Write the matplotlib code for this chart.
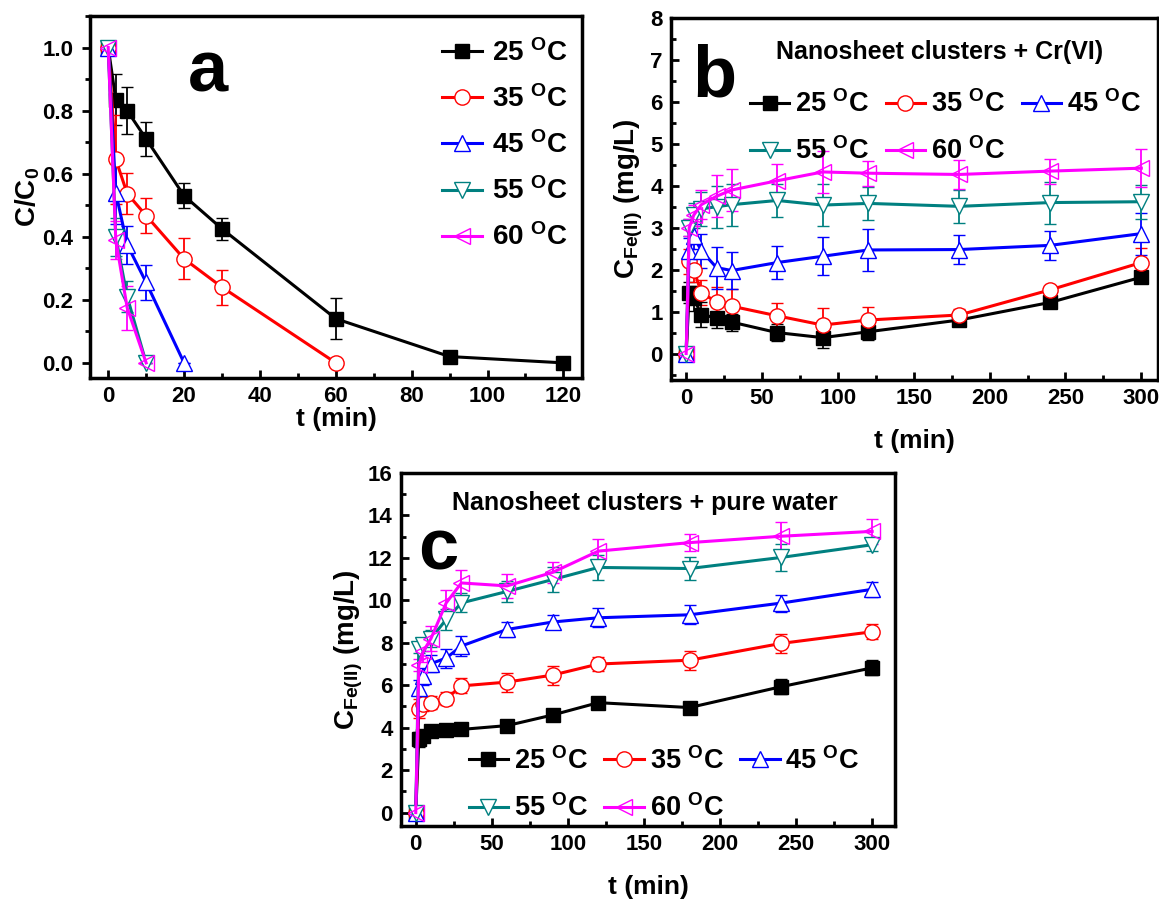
import matplotlib
matplotlib.use('Agg')
import matplotlib.pyplot as plt
from matplotlib.ticker import MultipleLocator

plt.rcParams['font.family'] = ['Liberation Sans', 'DejaVu Sans']
plt.rcParams['font.weight'] = 'bold'
plt.rcParams['mathtext.fontset'] = 'custom'
plt.rcParams['mathtext.rm'] = 'Liberation Sans:bold'
plt.rcParams['mathtext.bf'] = 'Liberation Sans:bold'
plt.rcParams['mathtext.it'] = 'Liberation Sans:bold'

# ---- data ----
labels = [r'25 $^{\mathbf{O}}$C', r'35 $^{\mathbf{O}}$C', r'45 $^{\mathbf{O}}$C',
          r'55 $^{\mathbf{O}}$C', r'60 $^{\mathbf{O}}$C']
colors = ['black', 'red', 'blue', '#008080', '#ff00ff']
markers = ['s', 'o', '^', 'v', '<']

# panel a: C/C0 vs t
t_a = [[0, 2, 5, 10, 20, 30, 60, 90, 120],
       [0, 2, 5, 10, 20, 30, 60],
       [0, 2, 5, 10, 20],
       [0, 2, 5, 10],
       [0, 2, 5, 10]]
c_a = [[1.0, 0.835, 0.80, 0.71, 0.53, 0.425, 0.14, 0.02, 0.0],
       [1.0, 0.645, 0.537, 0.467, 0.33, 0.24, 0.0],
       [1.0, 0.54, 0.375, 0.255, 0.0],
       [1.0, 0.40, 0.21, 0.0],
       [1.0, 0.39, 0.175, 0.0]]
e_a = [[0, 0.08, 0.075, 0.055, 0.04, 0.035, 0.065, 0, 0],
       [0, 0.14, 0.065, 0.055, 0.065, 0.055, 0],
       [0, 0.10, 0.06, 0.055, 0],
       [0, 0.06, 0.05, 0],
       [0, 0.06, 0.07, 0]]

# panels b and c share the sampling times
t_bc = [0, 2, 5, 10, 20, 30, 60, 90, 120, 180, 240, 300]

fe_b = [[0, 1.45, 1.32, 0.93, 0.85, 0.75, 0.50, 0.38, 0.52, 0.80, 1.22, 1.82],
        [0, 2.2, 2.0, 1.45, 1.23, 1.13, 0.90, 0.68, 0.80, 0.92, 1.52, 2.17],
        [0, 2.45, 2.8, 2.45, 2.05, 1.98, 2.17, 2.32, 2.47, 2.48, 2.58, 2.86],
        [0, 3.0, 3.3, 3.45, 3.5, 3.55, 3.65, 3.54, 3.58, 3.51, 3.6, 3.62],
        [0, 3.0, 3.3, 3.55, 3.75, 3.9, 4.12, 4.33, 4.3, 4.27, 4.35, 4.42]]
err_b = [[0, 0.25, 0.3, 0.3, 0.25, 0.2, 0.2, 0.25, 0.2, 0.1, 0.05, 0.05],
         [0, 0.3, 0.3, 0.3, 0.35, 0.4, 0.3, 0.4, 0.3, 0.15, 0.1, 0.35],
         [0, 0.3, 0.3, 0.4, 0.5, 0.45, 0.4, 0.45, 0.5, 0.35, 0.35, 0.5],
         [0, 0.2, 0.3, 0.4, 0.5, 0.5, 0.4, 0.5, 0.4, 0.4, 0.5, 0.4],
         [0, 0.2, 0.25, 0.35, 0.5, 0.5, 0.4, 0.5, 0.3, 0.35, 0.3, 0.45]]

fe_c = [[0, 3.45, 3.6, 3.85, 3.9, 3.92, 4.1, 4.6, 5.18, 4.95, 5.93, 6.82],
        [0, 4.9, 5.1, 5.18, 5.36, 5.97, 6.15, 6.48, 7.0, 7.18, 7.97, 8.52],
        [0, 5.88, 6.42, 7.02, 7.28, 7.85, 8.63, 8.98, 9.18, 9.32, 9.87, 10.52],
        [0, 7.7, 7.9, 8.2, 9.1, 9.88, 10.42, 10.98, 11.55, 11.5, 12.02, 12.62],
        [0, 6.95, 7.6, 8.2, 9.88, 10.82, 10.68, 11.32, 12.32, 12.72, 13.02, 13.25]]
err_c = [[0, 0.35, 0.2, 0.2, 0.15, 0.15, 0.15, 0.15, 0.2, 0.15, 0.35, 0.35],
         [0, 0.45, 0.3, 0.3, 0.3, 0.35, 0.45, 0.45, 0.35, 0.45, 0.45, 0.35],
         [0, 0.35, 0.4, 0.4, 0.45, 0.45, 0.35, 0.35, 0.45, 0.45, 0.4, 0.35],
         [0, 0.2, 0.3, 0.4, 0.5, 0.45, 0.5, 0.6, 0.6, 0.55, 0.65, 0.3],
         [0, 0.3, 0.5, 0.6, 0.6, 0.6, 0.55, 0.5, 0.55, 0.4, 0.65, 0.6]]

W, H = 1159, 902
fig = plt.figure(figsize=(W / 100, H / 100), dpi=100)


def px_axes(left, top, right, bottom):
    return fig.add_axes([left / W, 1 - bottom / H, (right - left) / W, (bottom - top) / H])


def draw_series(ax, xs, ys, es):
    handles = []
    for i in range(5):
        mfc = 'none' if markers[i] == '<' else ('black' if markers[i] == 's' else 'white')
        cont = ax.errorbar(xs[i], ys[i], yerr=es[i], color=colors[i], marker=markers[i],
                           ms=11 if markers[i] != 's' else 10, mfc=mfc, mec=colors[i], mew=1,
                           lw=2.2, capsize=4, elinewidth=1.3, capthick=1.3, label=labels[i])
        handles.append(cont[0])  # legend shows only line + marker
    return handles


def style(ax):
    for s in ax.spines.values():
        s.set_linewidth(2.5)
    ax.tick_params(which='both', direction='in', width=2, labelsize=16, pad=6)
    ax.tick_params(which='major', length=6)
    ax.tick_params(which='minor', length=3.5)
    for lab in ax.get_xticklabels() + ax.get_yticklabels():
        lab.set_fontweight('bold')


# row-wise order for a 3-column legend
row_order = [0, 3, 1, 4, 2]
leg3 = dict(ncol=3, frameon=False, fontsize=19.5, handlelength=1.45, handletextpad=0.22,
            columnspacing=0.6, labelspacing=0.72, borderaxespad=0.0)

# ---- a ----
ax_a = px_axes(90, 16, 582, 378)
h_a = draw_series(ax_a, t_a, c_a, e_a)
ax_a.set_xlim(-4.8, 124.9)
ax_a.set_ylim(-0.048, 1.10)
ax_a.xaxis.set_major_locator(MultipleLocator(20))
ax_a.xaxis.set_minor_locator(MultipleLocator(10))
ax_a.yaxis.set_minor_locator(MultipleLocator(0.1))
ax_a.set_yticks([0, 0.2, 0.4, 0.6, 0.8, 1.0])
ax_a.set_yticklabels(['0.0', '0.2', '0.4', '0.6', '0.8', '1.0'])
style(ax_a)
ax_a.tick_params(axis='y', which='both', direction='out')
ax_a.set_xlabel('t (min)', fontsize=19, fontweight='bold', labelpad=0)
ax_a.set_ylabel(r'C/C$_0$', fontsize=20, fontweight='bold', labelpad=0)
ax_a.text(0.24, 0.845, 'a', transform=ax_a.transAxes, fontsize=52, fontweight='bold',
          ha='center', va='center')
ax_a.legend(h_a, labels, loc='upper right', bbox_to_anchor=(1.01, 0.99), frameon=False,
            fontsize=20, handlelength=1.45, handletextpad=0.35, labelspacing=0.66,
            borderaxespad=0.3)

# ---- b ----
ax_b = px_axes(671, 18, 1158, 380)
h_b = draw_series(ax_b, [t_bc] * 5, fe_b, err_b)
ax_b.set_xlim(-10, 311)
ax_b.set_ylim(-0.63, 8)
ax_b.xaxis.set_major_locator(MultipleLocator(50))
ax_b.xaxis.set_minor_locator(MultipleLocator(25))
ax_b.yaxis.set_major_locator(MultipleLocator(1))
ax_b.yaxis.set_minor_locator(MultipleLocator(0.5))
style(ax_b)
ax_b.set_xlabel('t (min)', fontsize=19, fontweight='bold', labelpad=14)
ax_b.set_ylabel(r'C$_{\mathrm{Fe(II)}}$ (mg/L)', fontsize=20, fontweight='bold', labelpad=4)
ax_b.text(0.09, 0.835, 'b', transform=ax_b.transAxes, fontsize=52, fontweight='bold',
          ha='center', va='center')
ax_b.text(0.552, 0.905, 'Nanosheet clusters + Cr(VI)', transform=ax_b.transAxes,
          fontsize=18, fontweight='bold', ha='center', va='center')
ax_b.legend([h_b[i] for i in row_order], [labels[i] for i in row_order],
            loc='upper left', bbox_to_anchor=(0.14, 0.83), **leg3)

# ---- c ----
ax_c = px_axes(401, 473, 895, 826)
h_c = draw_series(ax_c, [t_bc] * 5, fe_c, err_c)
ax_c.set_xlim(-9.7, 315)
ax_c.set_ylim(-0.63, 16)
ax_c.xaxis.set_major_locator(MultipleLocator(50))
ax_c.xaxis.set_minor_locator(MultipleLocator(25))
ax_c.yaxis.set_major_locator(MultipleLocator(2))
ax_c.yaxis.set_minor_locator(MultipleLocator(1))
style(ax_c)
ax_c.set_xlabel('t (min)', fontsize=19, fontweight='bold', labelpad=14)
ax_c.set_ylabel(r'C$_{\mathrm{Fe(II)}}$ (mg/L)', fontsize=20, fontweight='bold', labelpad=2)
ax_c.text(0.075, 0.78, 'c', transform=ax_c.transAxes, fontsize=52, fontweight='bold',
          ha='center', va='center')
ax_c.text(0.494, 0.915, 'Nanosheet clusters + pure water', transform=ax_c.transAxes,
          fontsize=18, fontweight='bold', ha='center', va='center')
ax_c.legend([h_c[i] for i in row_order], [labels[i] for i in row_order],
            loc='lower left', bbox_to_anchor=(0.115, -0.02), **leg3)

fig.savefig('out.png', dpi=100)
